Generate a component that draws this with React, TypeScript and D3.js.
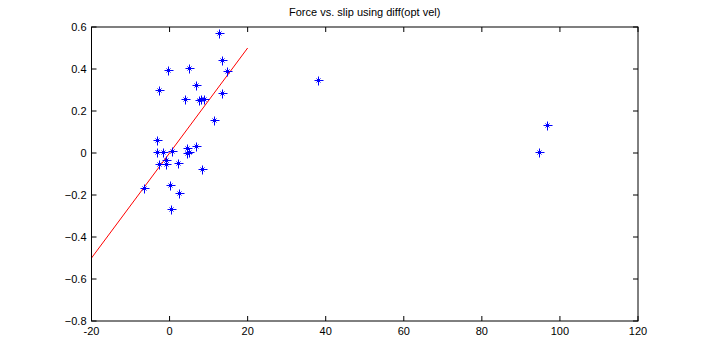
import React from 'react';
import * as d3 from 'd3';

// slip values (x) and force values (y)
const slip = [
  12.65, 13.5, 14.8, -0.33, 5.04, 6.84, -2.64, 13.5, 4.02, 7.45, 8.04, 8.81, 11.45,
  -3.15, -3.15, -1.61, 0.61, 4.38, 4.89, 4.38, 6.84, -0.85, -2.79, -0.85, 2.07, 8.3,
  -6.63, 0.18, 2.48, 0.36, 38.08, 96.72, 94.67,
];
const force = [
  0.573, 0.441, 0.39, 0.394, 0.403, 0.324, 0.299, 0.286, 0.256, 0.252, 0.259, 0.259, 0.157,
  0.062, 0.003, 0.003, 0.01, 0.025, 0.003, -0.001, 0.035, -0.033, -0.054, -0.054, -0.049, -0.076,
  -0.168, -0.151, -0.19, -0.265, 0.346, 0.132, 0.005,
];
const fitX = [-20, 20];
const fitY = [-0.5, 0.5];
const xTicks = [-20, 0, 20, 40, 60, 80, 100, 120];
const yTicks = [-0.8, -0.6, -0.4, -0.2, 0, 0.2, 0.4, 0.6];

const W = 702;
const H = 360;
const left = 91.5;
const right = 638;
const top = 27;
const bottom = 321;

export default function App() {
  const x = d3.scaleLinear().domain([-20, 120]).range([left, right]);
  const y = d3.scaleLinear().domain([-0.8, 0.6]).range([bottom, top]);
  const line = d3.line<number>()
    .x((d, i) => x(fitX[i]))
    .y(d => y(d));
  const tick = 5;
  const font = { fontFamily: 'Liberation Sans, Arial, sans-serif', fontSize: 11 };

  return (
    <svg width={W} height={H} style={{ position: 'absolute', left: 0, top: 0, background: '#fff' }}>
      <rect x={0} y={0} width={W} height={H} fill="#fff" />
      <text x={(left + right) / 2} y={16} textAnchor="middle" {...font}>
        Force vs. slip using diff(opt vel)
      </text>

      <path d={line(fitY) || ''} stroke="#ff0000" strokeWidth={1} fill="none" />

      {slip.map((s, i) => {
        const cx = Math.round(x(s)) + 0.5;
        const cy = Math.round(y(force[i])) + 0.5;
        return (
          <g key={i} stroke="#0000ff" strokeWidth={1}>
            <line x1={cx - 4} x2={cx + 5} y1={cy} y2={cy} />
            <line x1={cx} x2={cx} y1={cy - 4} y2={cy + 5} />
            <line x1={cx - 2} x2={cx + 2} y1={cy - 2} y2={cy + 2} />
            <line x1={cx - 2} x2={cx + 2} y1={cy + 2} y2={cy - 2} />
            <rect x={cx - 1.5} y={cy - 1.5} width={3} height={3} fill="#0000ff" stroke="none" />
          </g>
        );
      })}

      <rect x={left} y={top} width={right - left} height={bottom - top} fill="none" stroke="#000" strokeWidth={1} />

      {xTicks.map(t => (
        <g key={'x' + t}>
          <line x1={x(t)} x2={x(t)} y1={bottom} y2={bottom - tick} stroke="#000" />
          <line x1={x(t)} x2={x(t)} y1={top} y2={top + tick} stroke="#000" />
          <text x={x(t)} y={bottom + 14} textAnchor="middle" {...font}>{t}</text>
        </g>
      ))}
      {yTicks.map(t => (
        <g key={'y' + t}>
          <line x1={left} x2={left + tick} y1={y(t)} y2={y(t)} stroke="#000" />
          <line x1={right} x2={right - tick} y1={y(t)} y2={y(t)} stroke="#000" />
          <text x={left - 5} y={y(t) + 4} textAnchor="end" {...font}>{d3.format('')(+t.toFixed(1))}</text>
        </g>
      ))}
    </svg>
  );
}
